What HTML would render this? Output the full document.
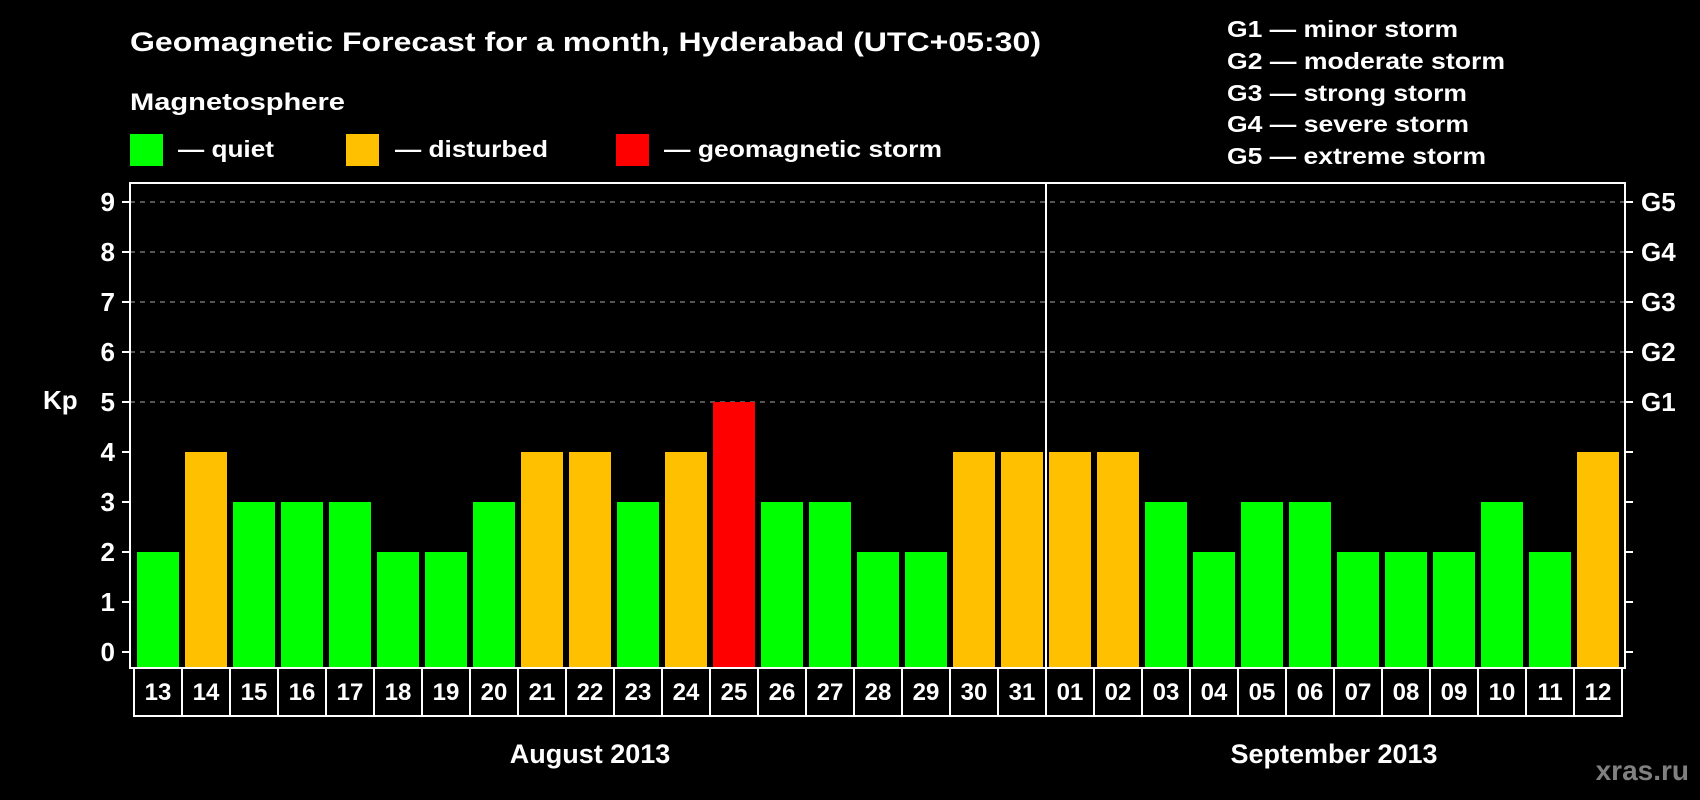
<!DOCTYPE html>
<html><head><meta charset="utf-8"><style>
html,body{margin:0;padding:0;background:#000;}
svg{display:block;font-family:"Liberation Sans",Arial,sans-serif;font-weight:bold;}
</style></head><body>
<svg id="chart" width="1700" height="800" viewBox="0 0 1700 800">
<rect x="0" y="0" width="1700" height="800" fill="#000"/>
<text x="130" y="51" font-size="27" fill="#fff" textLength="911" lengthAdjust="spacingAndGlyphs">Geomagnetic Forecast for a month, Hyderabad (UTC+05:30)</text>
<text x="130" y="110" font-size="24" fill="#fff" textLength="215" lengthAdjust="spacingAndGlyphs">Magnetosphere</text>
<rect x="130" y="134" width="33" height="32" fill="#00ff00"/>
<text x="178" y="157" font-size="23" fill="#fff" textLength="96" lengthAdjust="spacingAndGlyphs">— quiet</text>
<rect x="346" y="134" width="33" height="32" fill="#ffc000"/>
<text x="395" y="157" font-size="23" fill="#fff" textLength="153" lengthAdjust="spacingAndGlyphs">— disturbed</text>
<rect x="616" y="134" width="33" height="32" fill="#ff0000"/>
<text x="664" y="157" font-size="23" fill="#fff" textLength="278" lengthAdjust="spacingAndGlyphs">— geomagnetic storm</text>
<g font-size="23" fill="#fff">
<text x="1227" y="37" textLength="231" lengthAdjust="spacingAndGlyphs">G1 — minor storm</text>
<text x="1227" y="69" textLength="278" lengthAdjust="spacingAndGlyphs">G2 — moderate storm</text>
<text x="1227" y="101" textLength="240" lengthAdjust="spacingAndGlyphs">G3 — strong storm</text>
<text x="1227" y="132" textLength="242" lengthAdjust="spacingAndGlyphs">G4 — severe storm</text>
<text x="1227" y="164" textLength="259" lengthAdjust="spacingAndGlyphs">G5 — extreme storm</text>
</g>
<g id="plot"></g>
<text x="43" y="409" font-size="26" fill="#fff">Kp</text>
<text x="590" y="763" font-size="27" fill="#fff" text-anchor="middle">August 2013</text>
<text x="1334" y="763" font-size="27" fill="#fff" text-anchor="middle">September 2013</text>
<text x="1689" y="780" font-size="28" fill="#808080" text-anchor="end">xras.ru</text>
</svg>
<script>
const days = ["13","14","15","16","17","18","19","20","21","22","23","24","25","26","27","28","29","30","31","01","02","03","04","05","06","07","08","09","10","11","12"];
const kpValues = [2,4,3,3,3,2,2,3,4,4,3,4,5,3,3,2,2,4,4,4,4,3,2,3,3,2,2,2,3,2,4];
const yTicks = [0,1,2,3,4,5,6,7,8,9];
const gLevels = ["G1","G2","G3","G4","G5"];
const gKp = [5,6,7,8,9];
const monthBreakIndex = 19;

const NS = "http://www.w3.org/2000/svg";
const plotG = document.getElementById("plot");
const plotLeft = 130, plotRight = 1625, plotTop = 183, plotBottom = 668;
const slot0 = 134, slotW = 48;
function yScale(v){ return 652 - v * 50; }
function xScale(i){ return slot0 + i * slotW; }
function mk(tag, attrs){ const e = document.createElementNS(NS, tag); for (const k in attrs) e.setAttribute(k, attrs[k]); plotG.appendChild(e); return e; }
function colorFor(v){ return v >= 5 ? "#ff0000" : (v >= 4 ? "#ffc000" : "#00ff00"); }

gKp.forEach((v, i) => {
  const gl = mk("line", {x1: plotLeft, x2: plotRight, y1: yScale(v), y2: yScale(v), stroke: "#888", "stroke-width": 1.2, "stroke-dasharray": "5,5"});
  
  
  const t = mk("text", {x: 1641, y: yScale(v) + 9, "font-size": 26, fill: "#fff"});
  t.textContent = gLevels[i];
  
  
});
yTicks.forEach(v => {
  const tl = mk("line", {x1: 122, x2: plotLeft, y1: yScale(v), y2: yScale(v), stroke: "#fff", "stroke-width": 2});
  
  
  const tr = mk("line", {x1: plotRight, x2: 1633, y1: yScale(v), y2: yScale(v), stroke: "#fff", "stroke-width": 2});
  
  
  const t = mk("text", {x: 115, y: yScale(v) + 9, "font-size": 26, fill: "#fff", "text-anchor": "end"});
  t.textContent = v;
  
  
});
kpValues.forEach((v, i) => {
  const b = mk("rect", {x: xScale(i) + 3, y: yScale(v), width: 42, height: yScale(0) + 16 - yScale(v), fill: colorFor(v)});
  
  
  const box = mk("rect", {x: xScale(i), y: plotBottom, width: slotW, height: 48, fill: "none", stroke: "#fff", "stroke-width": 2});
  
  
  const t = mk("text", {x: xScale(i) + slotW / 2, y: 700, "font-size": 24, fill: "#fff", "text-anchor": "middle"});
  t.textContent = days[i];
  
  
});
const sep = mk("line", {x1: xScale(monthBreakIndex), x2: xScale(monthBreakIndex), y1: plotTop, y2: plotBottom, stroke: "#fff", "stroke-width": 2});


const frame = mk("rect", {x: plotLeft, y: plotTop, width: plotRight - plotLeft, height: plotBottom - plotTop, fill: "none", stroke: "#fff", "stroke-width": 2});


</script>
</body></html>
